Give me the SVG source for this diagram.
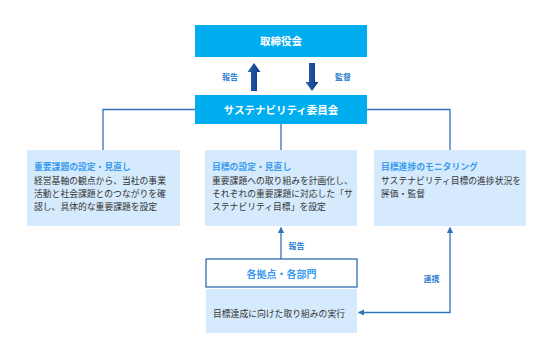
<svg xmlns="http://www.w3.org/2000/svg" width="533" height="343" viewBox="0 0 533 343">
<style>
text{font-family:"Noto Sans CJK JP","Noto Sans",sans-serif}
.hd{fill:#00AEEF}
.lt{fill:#D5EAFC}
.ht{fill:#fff;font-size:10.5px;font-weight:bold;text-anchor:middle}
.tt{fill:#3A9BF0;font-size:8.8px;font-weight:bold}
.bt{fill:#333;font-size:8.8px}
.lb{fill:#2F80D0;font-size:8px;font-weight:bold;text-anchor:middle}
.ln{stroke:#2E75B6;stroke-width:1.3;fill:none}
</style>
<defs>
<linearGradient id="ag" x1="0" y1="0" x2="1" y2="0">
<stop offset="0" stop-color="#2C63B5"/>
<stop offset="1" stop-color="#10387F"/>
</linearGradient>
<marker id="ah" viewBox="0 0 10 10" refX="9" refY="5" markerWidth="5" markerHeight="5" orient="auto-start-reverse">
<path d="M0,0 L10,5 L0,10 z" fill="#2E75B6"/>
</marker>
</defs>
<g id="connectors">
<path class="ln" d="M195,109.5 H103 V150"/>
<path class="ln" d="M367,109.5 H450 V150"/>
<path class="ln" d="M281,124 V150"/>
<path class="ln" d="M281,259 V227.5" marker-end="url(#ah)"/>
<path class="ln" d="M450,227.5 V312.5 H358.5" marker-start="url(#ah)" marker-end="url(#ah)"/>
<path d="M251,91 V72 H247.5 L254,63 L260.5,72 H257 V91 z" fill="url(#ag)"/>
<path d="M309,63 V82 H305.5 L312,91 L318.5,82 H315 V63 z" fill="url(#ag)"/>
<text class="lb" x="230" y="80">報告</text>
<text class="lb" x="343" y="80">監督</text>
<text class="lb" x="296.5" y="249">報告</text>
<text class="lb" x="431.5" y="282">連携</text>
</g>
<g id="board">
<rect class="hd" x="195" y="25" width="172" height="32"/>
<text class="ht" x="281" y="45">取締役会</text>
</g>
<g id="committee">
<rect class="hd" x="195" y="95" width="172" height="29"/>
<text class="ht" x="281" y="113.5">サステナビリティ委員会</text>
</g>
<g id="materiality">
<rect class="lt" x="27" y="150" width="153" height="76"/>
<text class="tt" x="34" y="170">重要課題の設定・見直し</text>
<text class="bt" x="34" y="184">経営基軸の観点から、当社の事業</text>
<text class="bt" x="34" y="197">活動と社会課題とのつながりを確</text>
<text class="bt" x="34" y="210">認し、具体的な重要課題を設定</text>
</g>
<g id="targets">
<rect class="lt" x="205" y="150" width="152" height="76"/>
<text class="tt" x="212" y="170">目標の設定・見直し</text>
<text class="bt" x="212" y="184">重要課題への取り組みを計画化し、</text>
<text class="bt" x="212" y="197">それぞれの重要課題に対応した「サ</text>
<text class="bt" x="212" y="210">ステナビリティ目標」を設定</text>
</g>
<g id="monitoring">
<rect class="lt" x="374" y="150" width="152" height="76"/>
<text class="tt" x="381" y="170">目標進捗のモニタリング</text>
<text class="bt" x="381" y="184">サステナビリティ目標の進捗状況を</text>
<text class="bt" x="381" y="197">評価・監督</text>
</g>
<g id="divisions">
<rect x="206" y="259" width="151" height="28" fill="#fff" stroke="#1F5FA8" stroke-width="1.2"/>
<text x="281.5" y="277.5" fill="#3A9BF0" font-size="10px" font-weight="bold" text-anchor="middle">各拠点・各部門</text>
</g>
<g id="execution">
<rect class="lt" x="206" y="289" width="151" height="44"/>
<text class="bt" x="279" y="316.5" text-anchor="middle">目標達成に向けた取り組みの実行</text>
</g>
</svg>
